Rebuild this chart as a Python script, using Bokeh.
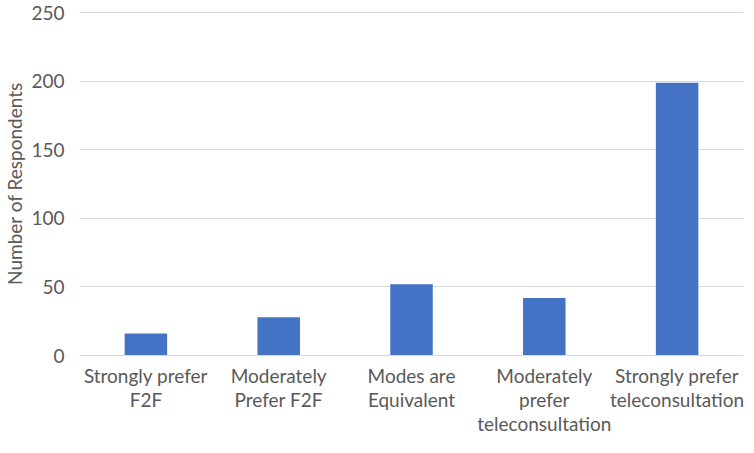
from bokeh.plotting import figure
from bokeh.models import (ColumnDataSource, Range1d, FactorRange, SingleIntervalTicker,
                          CategoricalAxis, CustomJSTickFormatter)
from bokeh.embed import file_html
from bokeh.resources import INLINE

categories = ["Strongly prefer F2F", "Moderately Prefer F2F", "Modes are Equivalent",
              "Moderately prefer teleconsultation", "Strongly prefer teleconsultation"]
tick_labels = ["Strongly prefer\nF2F", "Moderately\nPrefer F2F", "Modes are\nEquivalent",
               "Moderately\nprefer\nteleconsultation", "Strongly prefer\nteleconsultation"]
counts = [16, 28, 52, 42, 199]

FONT = "Lato"
GRAY = "#595959"
FS = "19px"

src = ColumnDataSource(dict(cat=categories, n=counts))

p = figure(x_range=FactorRange(*categories, range_padding=0), y_range=Range1d(0, 251),
           width=745, height=437, output_backend="svg", toolbar_location=None,
           min_border_left=66, min_border_right=2, min_border_top=11, min_border_bottom=70)
p.vbar(x="cat", top="n", width=0.32, source=src, fill_color="#4472C4", line_color=None)

p.outline_line_color = None
p.xgrid.grid_line_color = None
p.ygrid.grid_line_color = "#D9D9D9"
p.ygrid.grid_line_width = 1
p.yaxis.ticker = SingleIntervalTicker(interval=50)

ax = p.yaxis[0]
ax.axis_line_color = None
ax.major_tick_line_color = None
ax.minor_tick_line_color = None
ax.major_tick_out = 0
ax.major_tick_in = 0
ax.major_label_text_font = FONT
ax.major_label_text_font_size = FS
ax.major_label_text_color = GRAY
ax.major_label_standoff = 11
ax.axis_label = "Number of Respondents"
ax.axis_label_text_font = FONT
ax.axis_label_text_font_size = FS
ax.axis_label_text_font_style = "normal"
ax.axis_label_text_color = GRAY
ax.axis_label_standoff = 2

# multi-line category labels: one stacked categorical axis per text line
split = [t.split("\n") for t in tick_labels]
nlines = max(len(s) for s in split)
xaxes = [p.xaxis[0]] + [CategoricalAxis() for _ in range(nlines - 1)]
for i, xa in enumerate(xaxes):
    if i > 0:
        p.add_layout(xa, "below")
    line_i = [s[i] if i < len(s) else " " for s in split]
    xa.formatter = CustomJSTickFormatter(
        args=dict(cats=categories, lines=line_i),
        code="const k = cats.indexOf(tick); return k >= 0 ? lines[k] : ' ';")
    xa.axis_line_color = "#D9D9D9" if i == 0 else None
    xa.axis_line_width = 1
    xa.major_tick_line_color = None
    xa.minor_tick_line_color = None
    xa.major_tick_out = 0
    xa.major_tick_in = 0
    xa.major_label_text_font = FONT
    xa.major_label_text_font_size = FS
    xa.major_label_text_color = GRAY
    xa.major_label_standoff = 8 if i == 0 else -2
    xa.group_text_font_size = "0px"

open("out.html", "w").write(file_html(p, INLINE))
